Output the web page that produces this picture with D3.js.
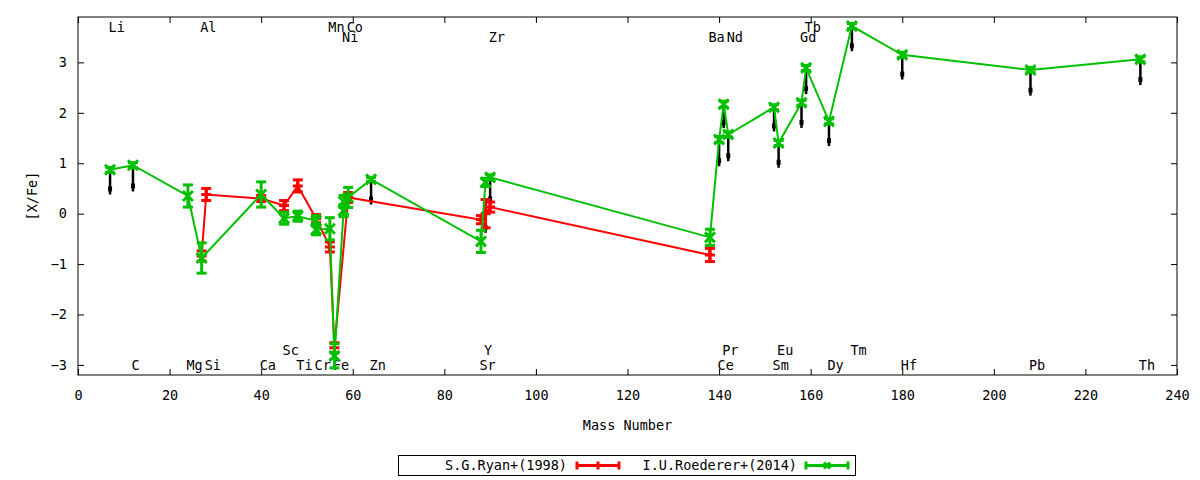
<!DOCTYPE html>
<html>
<head>
<meta charset="utf-8">
<script src="https://cdn.jsdelivr.net/npm/d3@7"></script>
<style>
  body { margin: 0; background: #fff; }
  text { font-family: "DejaVu Sans Mono", monospace; font-size: 13.5px; fill: #000; }
</style>
</head>
<body>
<svg id="chart"></svg>
<script>
// axis setup
const massRange = [0, 240];
const xfeRange = [-3.2, 3.9];
const xTicks = [0, 20, 40, 60, 80, 100, 120, 140, 160, 180, 200, 220, 240];
const yTicks = [-3, -2, -1, 0, 1, 2, 3];

// element names written along top / bottom (row value is in [X/Fe] units)
const labelNames = ["Li", "C", "Mg", "Al", "Si", "Ca", "Sc", "Ti", "Cr", "Mn", "Fe", "Co", "Ni", "Zn",
    "Sr", "Y", "Zr", "Ba", "Ce", "Pr", "Nd", "Sm", "Eu", "Gd", "Tb", "Dy", "Tm", "Hf", "Pb", "Th"];
const labelMass = [7, 12, 24, 27, 28, 40, 45, 48, 52, 55, 56, 59, 58, 64,
    88, 89, 90, 138, 140, 141, 142, 152, 153, 158, 159, 164, 169, 180, 208, 232];
const labelRow = [3.7, -3.0, -3.0, 3.7, -3.0, -3.0, -2.7, -3.0, -3.0, 3.7, -3.0, 3.7, 3.5, -3.0,
    -3.0, -2.7, 3.5, 3.5, -3.0, -2.7, 3.5, -3.0, -2.7, 3.5, 3.7, -3.0, -2.7, -3.0, -3.0, -3.0];

// S.G.Ryan+(1998)
const ryanMass = [27, 28, 40, 45, 48, 52, 55, 56, 59, 88, 89, 90, 138];
const ryanVal = [-0.84, 0.38, 0.30, 0.16, 0.55, -0.10, -0.66, -2.66, 0.32, -0.12, 0.00, 0.13, -0.82];
const ryanErr = [0.10, 0.12, 0.06, 0.10, 0.12, 0.08, 0.10, 0.10, 0.10, 0.08, 0.28, 0.10, 0.13];

// I.U.Roederer+(2014)
const roedMass = [7, 12, 24, 27, 40, 45, 48, 52, 52, 55, 56, 58, 58, 59, 64,
    88, 89, 90, 138, 140, 141, 142, 152, 153, 158, 159, 164, 169, 180, 208, 232];
const roedVal = [0.87, 0.96, 0.35, -0.88, 0.38, -0.09, -0.05, -0.14, -0.32, -0.30, -2.82, 0.06, 0.24, 0.32, 0.68,
    -0.55, 0.62, 0.72, -0.47, 1.47, 2.17, 1.57, 2.11, 1.40, 2.20, 2.89, 1.83, 3.72, 3.15, 2.85, 3.06];
const roedErr = [0.05, 0.05, 0.22, 0.30, 0.25, 0.12, 0.10, 0.10, 0.10, 0.22, 0.24, 0.12, 0.12, 0.20, 0.04,
    0.22, 0.08, 0.05, 0.16, 0.06, 0.06, 0.05, 0.05, 0.05, 0.05, 0.05, 0.05, 0.05, 0.05, 0.05, 0.05];

// black downward arrows (upper limits)
const limMass = [7, 12, 64, 89, 90, 140, 141, 142, 152, 153, 158, 159, 164, 169, 180, 208, 232];
const limTop = [0.87, 0.96, 0.68, 0.12, 0.68, 1.47, 2.17, 1.57, 2.11, 1.40, 2.20, 2.89, 1.83, 3.72, 3.15, 2.85, 3.06];
const limBottom = [0.38, 0.44, 0.18, -0.38, 0.18, 0.94, 1.70, 1.04, 1.63, 0.91, 1.70, 2.37, 1.34, 3.22, 2.66, 2.34, 2.55];

const width = 1200, height = 480;
const plot = { left: 78, top: 17, right: 1177, bottom: 375 };
const red = "#ff0000", green = "#00c000";
const fontSize = 13.5;

const svg = d3.select("#chart")
    .attr("width", width)
    .attr("height", height)
    .style("background-color", "#fff");

const x = d3.scaleLinear().domain(massRange).range([plot.left, plot.right]);
const y = d3.scaleLinear().domain(xfeRange).range([plot.bottom, plot.top]);

// axes, ticks point inward and are mirrored
function styleAxis(g) {
    g.attr("font-family", "DejaVu Sans Mono").attr("font-size", fontSize);
    g.select(".domain").remove();
    g.selectAll(".tick line").attr("stroke", "#000");
}
svg.append("g")
    .attr("transform", `translate(0,${plot.bottom})`)
    .call(d3.axisBottom(x).tickValues(xTicks).tickSize(-6).tickPadding(15))
    .call(styleAxis);
svg.append("g")
    .attr("transform", `translate(0,${plot.top})`)
    .call(d3.axisTop(x).tickValues(xTicks).tickSize(-6).tickFormat(""))
    .call(styleAxis);
svg.append("g")
    .attr("transform", `translate(${plot.left},0)`)
    .call(d3.axisLeft(y).tickValues(yTicks).tickSize(-6).tickPadding(11))
    .call(styleAxis);
svg.append("g")
    .attr("transform", `translate(${plot.right},0)`)
    .call(d3.axisRight(y).tickValues(yTicks).tickSize(-6).tickFormat(""))
    .call(styleAxis);

svg.append("rect")
    .attr("x", plot.left)
    .attr("y", plot.top)
    .attr("width", plot.right - plot.left)
    .attr("height", plot.bottom - plot.top)
    .attr("fill", "none")
    .attr("stroke", "#000");

// axis titles
svg.append("text")
    .attr("x", (plot.left + plot.right) / 2)
    .attr("y", 425)
    .attr("dy", "0.35em")
    .attr("text-anchor", "middle")
    .text("Mass Number");
svg.append("text")
    .attr("transform", `translate(32,${(plot.top + plot.bottom) / 2}) rotate(-90)`)
    .attr("dy", "0.35em")
    .attr("text-anchor", "middle")
    .text("[X/Fe]");

// element labels (drawn first so markers sit on top of them)
svg.append("g").selectAll("text")
    .data(labelNames.map((n, i) => ({ name: n, m: labelMass[i], row: labelRow[i] })))
    .enter()
    .append("text")
    .attr("x", d => x(d.m) - 1.5)
    .attr("y", d => y(d.row))
    .attr("dy", "0.35em")
    .text(d => d.name);

// upper-limit arrows
const limits = limMass.map((m, i) => ({ m: m, top: limTop[i], bottom: limBottom[i] }));
const arrows = svg.append("g");
arrows.selectAll("line")
    .data(limits)
    .enter()
    .append("line")
    .attr("x1", d => x(d.m))
    .attr("x2", d => x(d.m))
    .attr("y1", d => y(d.top))
    .attr("y2", d => y(d.bottom))
    .attr("stroke", "#000")
    .attr("stroke-width", 2.5);
arrows.selectAll("rect")
    .data(limits)
    .enter()
    .append("rect")
    .attr("x", d => x(d.m) - 2)
    .attr("y", d => y(d.bottom) - 8)
    .attr("width", 4)
    .attr("height", 5)
    .attr("fill", "#000");

// one series: connecting line, error bars with caps, point marker
function drawSeries(mass, val, err, color, marker) {
    const pts = mass.map((m, i) => ({ m: m, v: val[i], e: err[i] }));
    const g = svg.append("g");
    g.append("path")
        .datum(pts)
        .attr("fill", "none")
        .attr("stroke", color)
        .attr("stroke-width", 2)
        .attr("d", d3.line().x(d => x(d.m)).y(d => y(d.v)));

    const pt = g.selectAll(".pt")
        .data(pts)
        .enter()
        .append("g")
        .attr("transform", d => `translate(${x(d.m)},0)`)
        .attr("stroke", color)
        .attr("stroke-width", 3);
    pt.append("line")
        .attr("y1", d => y(d.v - d.e))
        .attr("y2", d => y(d.v + d.e));
    pt.append("line")
        .attr("x1", -5).attr("x2", 5)
        .attr("y1", d => y(d.v + d.e))
        .attr("y2", d => y(d.v + d.e));
    pt.append("line")
        .attr("x1", -5).attr("x2", 5)
        .attr("y1", d => y(d.v - d.e))
        .attr("y2", d => y(d.v - d.e));
    pt.append("path")
        .attr("fill", "none")
        .attr("d", d => marker(0, y(d.v), 5));
}

const plusMark = (cx, cy, r) => `M${cx - r},${cy}H${cx + r}M${cx},${cy - r}V${cy + r}`;
const crossMark = (cx, cy, r) => `M${cx - r},${cy - r}L${cx + r},${cy + r}M${cx - r},${cy + r}L${cx + r},${cy - r}`;

drawSeries(ryanMass, ryanVal, ryanErr, red, plusMark);
drawSeries(roedMass, roedVal, roedErr, green, crossMark);

// legend box
const legend = svg.append("g");
legend.append("rect")
    .attr("x", 398.5).attr("y", 455.5)
    .attr("width", 457).attr("height", 20)
    .attr("fill", "none")
    .attr("stroke", "#000");

function legendEntry(label, textEnd, x0, x1, color, marker) {
    const cy = 465.5;
    legend.append("text")
        .attr("x", textEnd).attr("y", cy)
        .attr("dy", "0.35em")
        .attr("text-anchor", "end")
        .text(label);
    const g = legend.append("g").attr("stroke", color).attr("stroke-width", 3);
    g.append("line").attr("x1", x0).attr("x2", x1).attr("y1", cy).attr("y2", cy);
    g.append("line").attr("x1", x0).attr("x2", x0).attr("y1", cy - 4).attr("y2", cy + 4);
    g.append("line").attr("x1", x1).attr("x2", x1).attr("y1", cy - 4).attr("y2", cy + 4);
    g.append("path").attr("fill", "none").attr("d", marker((x0 + x1) / 2, cy, 4));
}
legendEntry("S.G.Ryan+(1998)", 567, 577, 619, red, (cx, cy, r) => `M${cx},${cy - r}V${cy + r}`);
legendEntry("I.U.Roederer+(2014)", 797, 806, 848, green, (cx, cy, r) => crossMark(cx, cy, r - 1));
</script>
</body>
</html>
